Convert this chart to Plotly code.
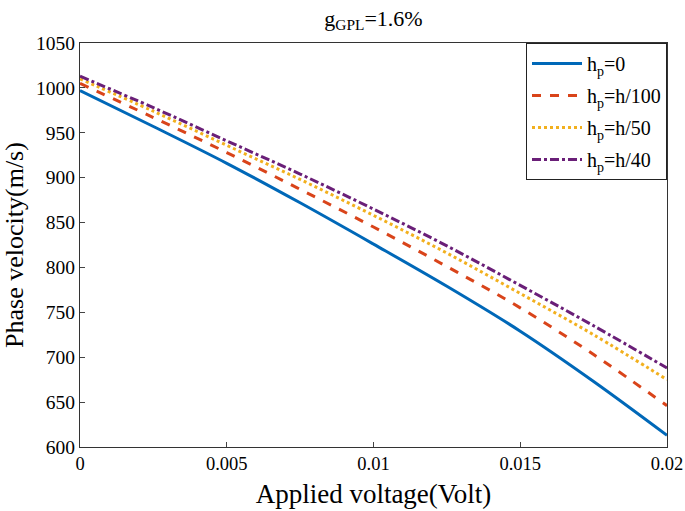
import plotly.graph_objects as go

voltage = [0, 0.0025, 0.005, 0.0075, 0.01, 0.0125, 0.015, 0.0175, 0.02]
v_hp0 = [997, 957, 916, 872, 826, 779, 729, 673, 613]
v_hp100 = [1005, 967, 928, 887, 845, 801, 755, 703, 646]
v_hp50 = [1010, 974, 936, 898, 858, 816, 771, 725, 675]
v_hp40 = [1013, 978, 941, 904, 865, 824, 780, 735, 688]

series = [
    ("h<sub>p</sub>=0", v_hp0, "#0068B8", "solid"),
    ("h<sub>p</sub>=h/100", v_hp100, "#D9441A", "dash"),
    ("h<sub>p</sub>=h/50", v_hp50, "#F2B01E", "dot"),
    ("h<sub>p</sub>=h/40", v_hp40, "#6A1F78", "dashdot"),
]

fig = go.Figure()
for i, (name, vals, color, dash) in enumerate(series):
    fig.add_trace(go.Scatter(x=voltage, y=vals, mode="lines", name=name, legendgroup=f"g{i}",
                             line=dict(color=color, width=3, dash=dash, shape="spline")))

font_family = "Liberation Serif"
fig.update_layout(
    width=685, height=511,
    margin=dict(l=80, r=18, t=43, b=64),
    paper_bgcolor="white", plot_bgcolor="white",
    font=dict(family=font_family, color="black"),
    title=dict(text="g<sub>GPL</sub>=1.6%", xref="paper", x=0.5, xanchor="center",
               y=0.965, yanchor="middle", font=dict(size=22, family=font_family)),
    showlegend=True,
    legend=dict(x=1, y=1, xanchor="right", yanchor="top", bgcolor="white",
                bordercolor="#222", borderwidth=1, font=dict(size=20, family=font_family),
                tracegroupgap=3, itemwidth=50),
)
fig.update_xaxes(range=[0, 0.02], tickvals=[0, 0.005, 0.01, 0.015, 0.02],
                 ticktext=["0", "0.005", "0.01", "0.015", "0.02"], automargin=False,
                 ticks="inside", ticklen=5, showline=True, linecolor="#333", mirror=True,
                 showgrid=False, zeroline=False, tickfont=dict(size=18.5),
                 title=dict(text="Applied voltage(Volt)", font=dict(size=27), standoff=10))
fig.update_yaxes(range=[600, 1050], tickvals=list(range(600, 1051, 50)), automargin=False,
                 ticks="inside", ticklen=5, showline=True, linecolor="#333", mirror=True,
                 showgrid=False, zeroline=False, tickfont=dict(size=19.5),
                 title=dict(text="Phase velocity(m/s)", font=dict(size=26), standoff=10))
fig.write_html("out.html", config={"displayModeBar": False},
               post_script="document.body.style.margin='0';document.body.style.overflow='hidden';")
